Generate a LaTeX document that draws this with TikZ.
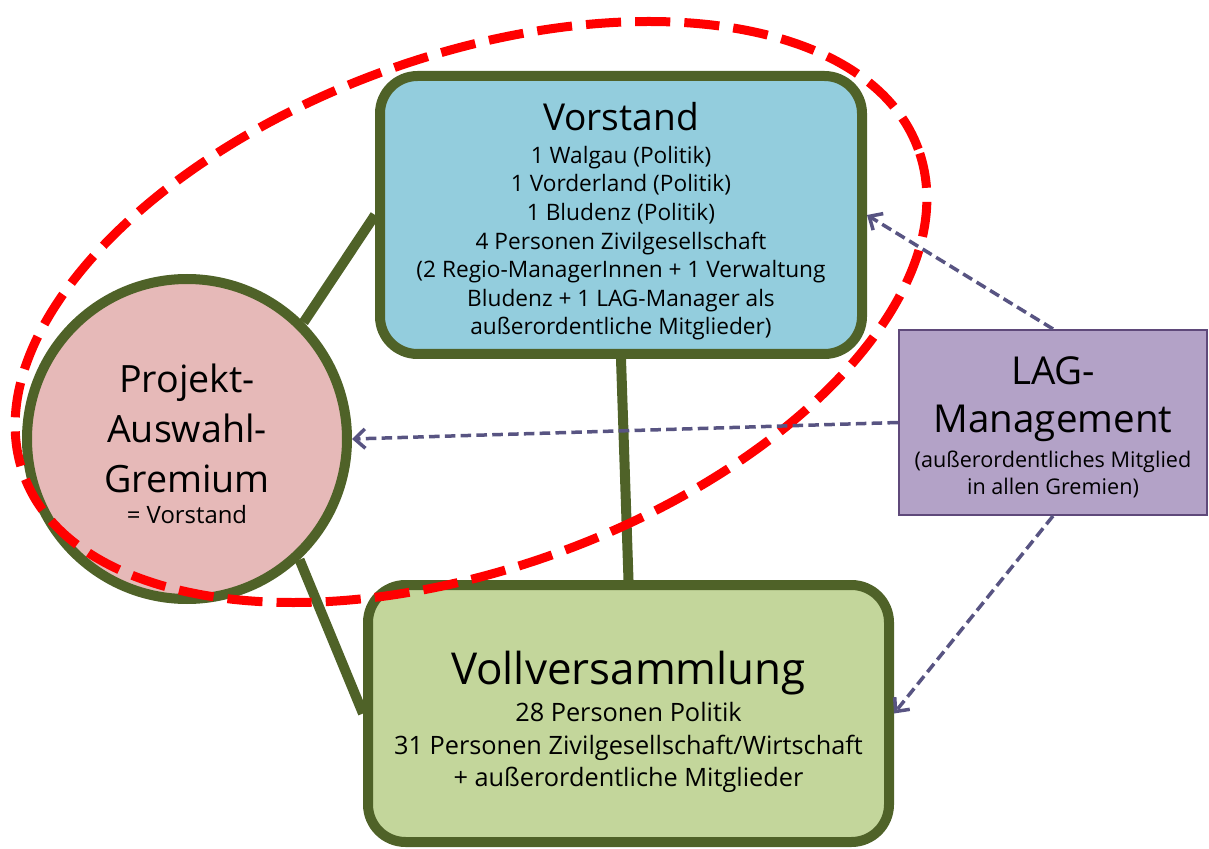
\documentclass[tikz,border=0pt]{standalone}
\usepackage{fontspec}
\setmainfont{Open Sans}
\usetikzlibrary{arrows.meta}
\definecolor{olivgruen}{HTML}{4F6228}
\definecolor{vorstandblau}{HTML}{93CDDD}
\definecolor{gremiumrosa}{HTML}{E6B9B8}
\definecolor{vollgruen}{HTML}{C3D69B}
\definecolor{laglila}{HTML}{B3A2C7}
\definecolor{lagrand}{HTML}{5F497A}
\definecolor{pfeilfarbe}{RGB}{88,84,130}

\begin{document}
\begin{tikzpicture}[
	kasten/.style={draw=olivgruen, line width=0.2cm, rounded corners=0.75cm, align=center, inner sep=0pt, text=black},
	kreis/.style={draw=olivgruen, line width=0.2cm, circle, fill=gremiumrosa, align=center, inner sep=0pt},
	verbindung/.style={draw=olivgruen, line width=0.2cm},
	pfeil/.style={draw=pfeilfarbe, line width=0.07cm, dash pattern=on 6pt off 3pt, -{Straight Barb[length=6pt,width=11pt]}},
	rotrand/.style={draw=red, line width=0.18cm, dash pattern=on 20pt off 8pt}
	]
	%%%%% START %%%%%
	\def\breite{24.18}
	\def\hoehe{16.96}
	\useasboundingbox (0,0) rectangle (\breite,\hoehe);

	\node[kreis, minimum size=6.4cm, font=\fontsize{21.4}{28.5}\selectfont] (gremium) at (3.74,8.18)
		{\rule{0pt}{21.5pt}Projekt-\\
		 Auswahl-\\
		 Gremium\\[-10.9pt]
		 {\fontsize{13.6}{16}\selectfont = Vorstand}};

	\node[kasten, fill=vorstandblau, minimum width=9.64cm, minimum height=5.56cm, font=\fontsize{12.9}{16.3}\selectfont] (vorstand) at (12.42,12.66)
		{{\fontsize{21.1}{26}\selectfont\rule{0pt}{23pt}Vorstand}\\[2.5pt]
		 1 Walgau (Politik)\\
		 1 Vorderland (Politik)\\
		 1 Bludenz (Politik)\\
		 4 Personen Zivilgesellschaft\\
		 (2 Regio-ManagerInnen + 1 Verwaltung\\
		 Bludenz + 1 LAG-Manager als\\
		 außerordentliche Mitglieder)};

	\node[kasten, fill=vollgruen, minimum width=10.42cm, minimum height=5.14cm, font=\fontsize{14.4}{18.5}\selectfont] (voll) at (12.57,2.69)
		{{\fontsize{25}{30}\selectfont\rule{0pt}{29pt}Vollversammlung}\\[2.5pt]
		 28 Personen Politik\\
		 31 Personen Zivilgesellschaft/Wirtschaft\\
		 + außerordentliche Mitglieder};

	\node[draw=lagrand, line width=0.04cm, fill=laglila, minimum width=6.16cm, minimum height=3.7cm, align=center, inner sep=0pt, font=\fontsize{21.9}{27.3}\selectfont] (lag) at (21.06,8.51)
		{\rule{0pt}{21pt}LAG-\\
		 Management\\[-7.3pt]
		 {\fontsize{12.3}{15.4}\selectfont (außerordentliches Mitglied}\\[-11.9pt]
		 {\fontsize{12.3}{15.4}\selectfont in allen Gremien)}};

	\draw[verbindung] (gremium.45) -- (vorstand.west);
	\draw[verbindung] (gremium.-47) -- (voll.west);
	\draw[verbindung] (vorstand.south) -- (voll.north);

	\draw[rotrand, rotate around={20:(9.42,10.72)}] (9.42,10.72) ellipse (9.52cm and 5.12cm);

	\draw[pfeil] (lag.north) -- (vorstand.east);
	\draw[pfeil] (lag.west) -- (gremium.east);
	\draw[pfeil] (lag.south) -- (voll.east);
	%%%%% START %%%%%
\end{tikzpicture}
\end{document}
